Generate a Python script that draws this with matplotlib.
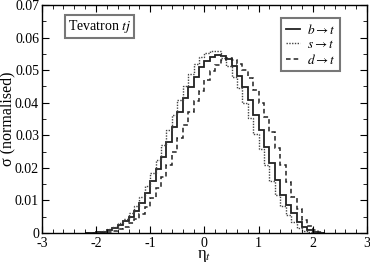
import numpy as np
import matplotlib
matplotlib.use("Agg")
import matplotlib.pyplot as plt
from matplotlib.ticker import MultipleLocator, FuncFormatter

plt.rcParams['font.family'] = ['Liberation Serif', 'DejaVu Serif']
plt.rcParams['mathtext.fontset'] = 'stix'

# bin edges in eta_t (bin width 0.1)
edges = np.round(np.arange(-2.2, 2.25, 0.1), 1)

# normalised cross sections, one value per bin
b_to_t = [0.0000, 0.0001, 0.0002, 0.0004, 0.0008, 0.0014, 0.0024, 0.0036, 0.0050, 0.0068,
          0.0092, 0.0124, 0.0158, 0.0196, 0.0234, 0.0280, 0.0326, 0.0372, 0.0413, 0.0449,
          0.0480, 0.0510, 0.0529, 0.0541, 0.0547, 0.0544, 0.0533, 0.0513, 0.0482, 0.0449,
          0.0408, 0.0362, 0.0316, 0.0265, 0.0214, 0.0163, 0.0117, 0.0086, 0.0060, 0.0035,
          0.0019, 0.0009, 0.0004, 0.0001]
s_to_t = [0.0000, 0.0001, 0.0003, 0.0006, 0.0011, 0.0019, 0.0030, 0.0043, 0.0060, 0.0082,
          0.0110, 0.0145, 0.0183, 0.0225, 0.0270, 0.0315, 0.0362, 0.0408, 0.0452, 0.0488,
          0.0518, 0.0540, 0.0553, 0.0560, 0.0558, 0.0538, 0.0512, 0.0480, 0.0445, 0.0400,
          0.0352, 0.0305, 0.0258, 0.0208, 0.0160, 0.0115, 0.0082, 0.0055, 0.0032, 0.0016,
          0.0007, 0.0003, 0.0001, 0.0000]
d_to_t = [0.0000, 0.0000, 0.0000, 0.0001, 0.0003, 0.0006, 0.0011, 0.0019, 0.0029, 0.0042,
          0.0058, 0.0080, 0.0107, 0.0138, 0.0172, 0.0210, 0.0250, 0.0290, 0.0330, 0.0370,
          0.0405, 0.0437, 0.0470, 0.0496, 0.0516, 0.0530, 0.0537, 0.0532, 0.0520, 0.0499,
          0.0475, 0.0440, 0.0400, 0.0355, 0.0310, 0.0262, 0.0210, 0.0155, 0.0110, 0.0072,
          0.0040, 0.0020, 0.0008, 0.0003]

fig = plt.figure(figsize=(3.7, 2.62), dpi=100)
ax = fig.add_axes([0.113, 0.111, 0.879, 0.870])

ax.stairs(b_to_t, edges, color='#222222', lw=1.3, ls='-', label=r'$b \rightarrow t$')
ax.stairs(s_to_t, edges, color='#444444', lw=1.0, ls=(0, (1, 1)), label=r'$s \rightarrow t$')
ax.stairs(d_to_t, edges, color='#222222', lw=1.1, ls=(0, (3, 2)), label=r'$d \rightarrow t$')

ax.set_xlim(-3, 3)
ax.set_ylim(0, 0.07)
ax.xaxis.set_major_locator(MultipleLocator(1))
ax.xaxis.set_minor_locator(MultipleLocator(0.2))
ax.yaxis.set_major_locator(MultipleLocator(0.01))
ax.yaxis.set_minor_locator(MultipleLocator(0.005))
ax.xaxis.set_major_formatter(FuncFormatter(lambda v, p: '%d' % round(v)))
ax.yaxis.set_major_formatter(FuncFormatter(lambda v, p: '0' if abs(v) < 1e-9 else '%.2f' % v))
ax.tick_params(which='both', direction='in', top=True, right=True, labelsize=10, pad=2)
ax.tick_params(axis='x', which='major', pad=3)
ax.tick_params(which='major', length=5)
ax.tick_params(which='minor', length=3)
for s in ax.spines.values():
    s.set_linewidth(1.0)

ax.set_xlabel('η$_t$', fontsize=12)
ax.xaxis.set_label_coords(0.5, -0.064)
ax.set_ylabel('σ (normalised)', fontsize=11.5)
ax.yaxis.set_label_coords(-0.08, 0.5)

ax.text(0.08, 0.89, r'Tevatron $tj$', transform=ax.transAxes, fontsize=10,
        bbox=dict(boxstyle='square,pad=0.22', fc='white', ec='#777777', lw=1.5))

leg = ax.legend(loc='upper right', bbox_to_anchor=(0.917, 0.943), fontsize=9.5,
                handlelength=1.1, handletextpad=0.5, labelspacing=0.15,
                borderpad=0.35, borderaxespad=0, fancybox=False, framealpha=1)
leg.get_frame().set_edgecolor('#777777')
leg.get_frame().set_linewidth(1.5)

fig.savefig('out.png', dpi=100)
